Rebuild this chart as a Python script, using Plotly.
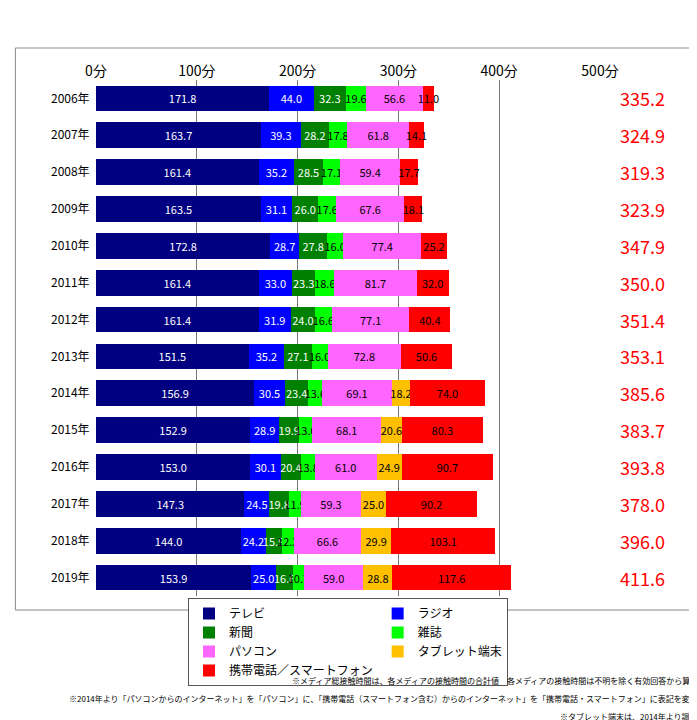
import plotly.graph_objects as go

years = [f"{y}年" for y in range(2006, 2020)]
series_names = ["テレビ", "ラジオ", "新聞", "雑誌", "パソコン", "タブレット端末", "携帯電話／スマートフォン"]
tv = [171.8, 163.7, 161.4, 163.5, 172.8, 161.4, 161.4, 151.5, 156.9, 152.9, 153.0, 147.3, 144.0, 153.9]
radio = [44.0, 39.3, 35.2, 31.1, 28.7, 33.0, 31.9, 35.2, 30.5, 28.9, 30.1, 24.5, 24.2, 25.0]
paper = [32.3, 28.2, 28.5, 26.0, 27.8, 23.3, 24.0, 27.1, 23.4, 19.9, 20.4, 19.8, 15.9, 16.6]
magazine = [19.6, 17.8, 17.1, 17.6, 16.0, 18.6, 16.6, 16.0, 13.6, 13.0, 13.8, 11.9, 12.3, 10.7]
pc = [56.6, 61.8, 59.4, 67.6, 77.4, 81.7, 77.1, 72.8, 69.1, 68.1, 61.0, 59.3, 66.6, 59.0]
tablet = [None]*8 + [18.2, 20.6, 24.9, 25.0, 29.9, 28.8]
mobile = [11.0, 14.1, 17.7, 18.1, 25.2, 32.0, 40.4, 50.6, 74.0, 80.3, 90.7, 90.2, 103.1, 117.6]
totals = [335.2, 324.9, 319.3, 323.9, 347.9, 350.0, 351.4, 353.1, 385.6, 383.7, 393.8, 378.0, 396.0, 411.6]

colors = ["#000080", "#0000FF", "#008000", "#00FF00", "#FF66FF", "#FFC000", "#FF0000"]
textcol = ["white", "white", "white", "black", "black", "black", "black"]
data = [tv, radio, paper, magazine, pc, tablet, mobile]

fig = go.Figure()
for name, vals, c, tc in zip(series_names, data, colors, textcol):
    fig.add_trace(go.Bar(
        y=years, x=vals, name=name, orientation="h",
        marker=dict(color=c, line=dict(width=0)),
        text=[f"{v:.1f}" if v is not None else "" for v in vals],
        textposition="inside", insidetextanchor="middle", textangle=0,
        textfont=dict(color=tc, size=11), constraintext="none",
        cliponaxis=False,
    ))

for y, t in zip(years, totals):
    fig.add_annotation(x=1.0, xref="paper", xanchor="left", xshift=18, y=y, yref="y",
                       text=f"{t:.1f}", showarrow=False, font=dict(color="red", size=18))

PH = 516
notes = [
    ("※メディア総接触時間は、各メディアの接触時間の合計値　各メディアの接触時間は不明を除く有効回答から算出", 672),
    ("※2014年より「パソコンからのインターネット」を「パソコン」に、「携帯電話（スマートフォン含む）からのインターネット」を「携帯電話・スマートフォン」に表記を変更", 690),
    ("※タブレット端末は、2014年より調査", 708),
]
for n, py in notes:
    fig.add_annotation(x=1.0 + 100/504, xref="paper", y=(588 - py)/PH, yref="paper", text=n,
                       showarrow=False, xanchor="right", yanchor="middle",
                       font=dict(size=8, color="black"))

fig.add_shape(type="rect", xref="paper", yref="paper", x0=-0.16, x1=1.0 + 98/504,
              y0=-(602-588)/PH, y1=1 + (72-40)/PH, line=dict(color="#888", width=1))

fig.update_layout(
    width=697, height=720,
    margin=dict(l=88, r=105, t=72, b=132),
    barmode="stack", bargap=0.3,
    plot_bgcolor="white", paper_bgcolor="white",
    font=dict(family="Noto Sans CJK JP", color="black", size=12),
    xaxis=dict(range=[0, 500], side="top", tickvals=[0, 100, 200, 300, 400, 500],
               ticktext=["0分", "100分", "200分", "300分", "400分", "500分"],
               tickfont=dict(size=14), showgrid=True, gridcolor="#777", gridwidth=1,
               zeroline=False, showline=False, ticks="", automargin=False),
    yaxis=dict(autorange="reversed", tickfont=dict(size=12), ticks="", showline=False,
               ticksuffix="  ", automargin=False),
    legend=dict(orientation="h", x=0.5, xanchor="center", y=(588 - 634)/PH, yanchor="middle",
                bordercolor="#555", borderwidth=1, font=dict(size=12),
                traceorder="normal", entrywidth=0, itemwidth=30),
    showlegend=True,
)
fig.write_html("out.html")
